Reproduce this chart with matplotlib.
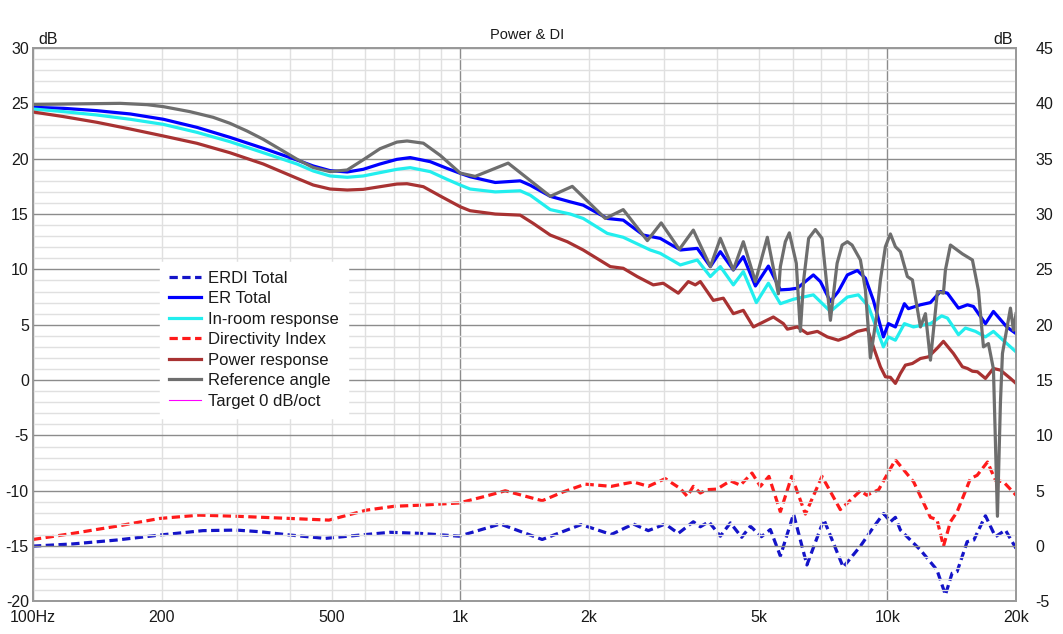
import matplotlib
matplotlib.use("Agg")
import matplotlib.pyplot as plt
from matplotlib.ticker import FixedLocator, NullFormatter

# ---------- data ----------
# Reference angle (left axis, dB)
ref_f = [100, 126, 160, 185, 202, 233, 264, 289, 317, 346, 379, 415, 453, 496,
         544, 593, 649, 711, 751, 820, 898, 1000, 1084, 1295, 1625, 1830,
         2186, 2408, 2742, 2955, 3258, 3513, 3851, 4064, 4359, 4600, 4909,
         5236, 5556, 5616, 5769, 5895, 6120, 6255, 6368, 6540, 6782, 7031,
         7355, 7625, 7834, 8059, 8265, 8646, 8882, 9125, 9450, 9630, 9892,
         10162, 10440, 10725, 11137, 11441, 11949, 12274, 12610, 13093, 13524,
         13671, 14045, 14981, 15812, 16334, 16779, 17238, 17708, 18095, 18390,
         18590, 19409, 19724, 20000]
ref_db = [24.9, 24.95, 25.0, 24.88, 24.7, 24.25, 23.74, 23.2, 22.5, 21.75,
          20.85, 19.95, 19.2, 18.83, 18.98, 19.9, 20.9, 21.5, 21.6, 21.4, 20.3,
          18.7, 18.4, 19.6, 16.6, 17.5, 14.6, 15.4, 12.6, 14.2, 11.8, 13.55,
          10.25, 12.8, 9.95, 12.5, 8.9, 12.9, 7.8, 10.25, 12.5, 13.3, 10.55,
          4.4, 9.05, 12.8, 13.6, 12.8, 5.4, 10.55, 12.2, 12.5, 12.2, 10.85,
          8.15, 2.0, 6.0, 9.05, 12.05, 13.2, 12.05, 11.6, 9.35, 9.05, 4.8, 6.0,
          1.8, 8.0, 7.85, 9.95, 12.2, 11.4, 10.85, 8.1, 3.0, 3.3, 1.0, -12.3,
          -2.0, 2.4, 6.5, 4.5, 6.0]

# ER Total (left axis)
er_f = [100, 118, 141, 169, 202, 242, 289, 346, 415, 453, 496, 544, 593, 649,
        711, 764, 851, 931, 1000, 1055, 1208, 1382, 1459, 1625, 1810, 1941,
        2210, 2408, 2683, 2940, 3275, 3589, 3851, 4064, 4359, 4600, 4909,
        5265, 5616, 5900, 6154, 6709, 6968, 7355, 7675, 8059, 8506, 8882,
        9273, 9786, 10053, 10440, 10959, 11197, 11949, 12610, 13307, 13820,
        14665, 15393, 15899, 16961, 17708, 19030, 20000]
er_db = [24.64, 24.55, 24.34, 24.04, 23.56, 22.83, 21.93, 20.94, 19.88, 19.34,
         18.92, 18.8, 19.04, 19.52, 19.94, 20.1, 19.73, 19.13, 18.68, 18.37,
         17.85, 18.0, 17.6, 16.6, 16.1, 15.8, 14.6, 14.45, 13.1, 12.8, 11.75,
         11.9, 10.25, 11.6, 9.95, 11.15, 8.5, 10.3, 8.15, 8.2, 8.3, 9.5, 8.9,
         7.1, 8.0, 9.5, 9.9, 9.2, 7.2, 3.9, 5.1, 4.8, 6.9, 6.45, 6.8, 7.0, 8.0,
         7.85, 6.5, 6.8, 6.65, 5.1, 6.2, 4.8, 4.2]

# In-room response (left axis)
ir_f = [100, 118, 141, 169, 202, 242, 289, 346, 415, 453, 496, 544, 593, 649,
        711, 764, 851, 931, 1000, 1055, 1208, 1382, 1459, 1625, 1810, 1941,
        2210, 2408, 2786, 2940, 3275, 3589, 3851, 4064, 4359, 4600, 4935,
        5265, 5616, 6023, 6709, 7355, 8059, 8550, 9030, 9786, 10053, 10440,
        10959, 11504, 12610, 13400, 13820, 14665, 15227, 16072, 16961, 17708,
        19030, 20000]
ir_db = [24.49, 24.25, 23.95, 23.56, 23.1, 22.38, 21.54, 20.54, 19.52, 18.89,
         18.44, 18.32, 18.44, 18.74, 19.04, 19.19, 18.83, 18.14, 17.62, 17.26,
         17.0, 17.1, 16.7, 15.4, 15.0, 14.6, 13.25, 12.9, 11.75, 11.45, 10.4,
         10.85, 9.35, 10.25, 8.6, 9.8, 7.0, 8.75, 6.9, 7.3, 7.7, 6.2, 7.5, 7.7,
         6.65, 3.0, 3.9, 3.6, 5.1, 4.8, 5.1, 5.8, 5.6, 4.1, 4.7, 4.4, 3.9, 4.4,
         3.3, 2.55]

# Power response (left axis)
pw_f = [100, 118, 141, 169, 202, 242, 289, 346, 415, 453, 496, 544, 593, 649,
        711, 751, 820, 898, 1000, 1055, 1208, 1382, 1483, 1625, 1781, 1941,
        2246, 2408, 2597, 2831, 2987, 3240, 3420, 3551, 3648, 3913, 4130,
        4359, 4600, 4856, 5408, 5708, 5832, 6154, 6496, 6856, 7235, 7675,
        8059, 8506, 8979, 9273, 9630, 9892, 10162, 10440, 10725, 11018,
        11441, 11949, 12474, 13093, 13524, 14275, 14981, 15393, 15812, 16247,
        16961, 17708, 18390, 19409, 20000]
pw_db = [24.22, 23.8, 23.29, 22.68, 22.05, 21.39, 20.54, 19.52, 18.23, 17.62,
         17.26, 17.17, 17.23, 17.47, 17.71, 17.74, 17.47, 16.63, 15.66, 15.3,
         15.0, 14.9, 14.15, 13.1, 12.5, 11.75, 10.25, 10.1, 9.35, 8.6, 8.75,
         7.85, 8.9, 8.6, 8.9, 7.2, 7.4, 6.0, 6.3, 4.8, 5.7, 5.1, 4.6, 4.8, 4.2,
         4.4, 3.9, 3.6, 3.9, 4.4, 4.6, 3.0, 1.2, 0.3, 0.25, -0.3, 0.6, 1.35,
         1.5, 1.95, 2.1, 2.9, 3.5, 2.4, 1.2, 1.05, 0.8, 0.75, 0.15, 1.05, 0.9,
         0.15, -0.3]

# Directivity Index (right axis)
di_f = [100, 124, 157, 198, 245, 299, 400, 493, 603, 701, 806, 995, 1144,
        1275, 1556, 1743, 1962, 2258, 2542, 2756, 3020, 3275, 3400, 3513,
        3648, 3780, 3990, 4290, 4527, 4820, 5042, 5280, 5616, 5970, 6427,
        7030, 7758, 8646, 8950, 9540, 10440, 11520, 12610, 13060, 13530,
        14045, 14560, 15643, 16220, 17150, 17900, 18700, 20000]
di_db = [0.6, 1.15, 1.8, 2.5, 2.8, 2.7, 2.5, 2.35, 3.25, 3.6, 3.7, 3.9, 4.5,
         5.0, 4.1, 4.9, 5.6, 5.4, 5.8, 5.4, 6.1, 5.2, 4.5, 5.4, 4.8, 5.1,
         5.15, 5.9, 5.5, 6.6, 5.4, 6.3, 3.1, 6.3, 2.9, 6.3, 3.3, 5.0, 4.6,
         5.1, 7.8, 5.8, 2.6, 2.4, 0.0, 2.2, 3.1, 6.1, 6.4, 7.6, 5.95, 5.8, 4.6]

# ERDI Total (right axis)
erdi_f = [100, 124, 157, 198, 250, 299, 340, 400, 483, 583, 686, 806, 995,
          1241, 1556, 1920, 2258, 2542, 2756, 3020, 3240, 3513, 3648, 3820,
          4064, 4290, 4560, 4778, 5070, 5321, 5616, 6030, 6480, 7100, 7880,
          8646, 9290, 9800, 10162, 10440, 10725, 11949, 13060, 13671, 14170,
          14560, 15370, 15930, 16961, 17900, 18890, 20000]
erdi_db = [0.0, 0.2, 0.55, 1.0, 1.4, 1.45, 1.3, 1.0, 0.7, 1.0, 1.25, 1.15, 0.9,
           2.0, 0.6, 1.95, 1.05, 2.0, 1.4, 2.0, 1.15, 2.2, 1.75, 2.2, 0.9, 2.1,
           0.8, 1.8, 0.85, 1.5, -0.9, 2.9, -1.7, 2.4, -1.9, 0.0, 1.75, 2.95,
           2.2, 2.6, 1.45, -0.35, -2.15, -4.4, -2.45, -2.3, 0.4, 0.55, 2.75,
           0.85, 1.45, -0.2]

x_ticks = [100, 200, 500, 1000, 2000, 5000, 10000, 20000]
x_labels = ["100Hz", "200", "500", "1k", "2k", "5k", "10k", "20k"]

# ---------- styling ----------
TXT = "#1A1A1A"
MAJOR = "#8C8C8C"
MINOR = "#E0E0E0"
plt.rcParams.update({"font.family": ["Liberation Sans", "DejaVu Sans"],
                     "font.size": 11.5, "text.color": TXT,
                     "axes.unicode_minus": False,
                     "lines.solid_joinstyle": "round",
                     "lines.dash_joinstyle": "round"})

fig = plt.figure(figsize=(10.63, 6.34), dpi=100, facecolor="white")
ax = fig.add_axes([0.031, 0.0513, 0.9248, 0.873])
ax2 = ax.twinx()

ax.set_xscale("log")
ax.set_xlim(100, 20000)
ax.set_ylim(-20, 30)
ax2.set_ylim(-5, 45)

# grid
ax.xaxis.set_major_locator(FixedLocator([100, 1000, 10000]))
ax.xaxis.set_minor_locator(FixedLocator(
    [m * d for d in (100, 1000) for m in range(2, 10)] + [20000]))
ax.yaxis.set_major_locator(FixedLocator(range(-20, 31, 5)))
ax.yaxis.set_minor_locator(FixedLocator(range(-20, 31, 1)))
ax.grid(which="minor", color=MINOR, lw=1.0)
ax.grid(which="major", color=MAJOR, lw=1.0)
ax.set_axisbelow(True)
ax.xaxis.set_major_formatter(NullFormatter())
ax.xaxis.set_minor_formatter(NullFormatter())
ax.tick_params(which="both", length=0, labelsize=11.5, colors=TXT)
ax.tick_params(axis="y", pad=3)
ax2.yaxis.set_major_locator(FixedLocator(range(-5, 46, 5)))
ax2.tick_params(length=0, labelsize=11.5, colors=TXT, pad=14)

for a in (ax, ax2):
    for s in a.spines.values():
        s.set_color("#9A9A9A")
        s.set_linewidth(1.3)

for f, lab in zip(x_ticks, x_labels):
    ax.text(f, -0.015, lab, transform=ax.get_xaxis_transform(),
            ha="center", va="top", fontsize=11.5, color=TXT)

# curves
dash = (0, (2.6, 1.4))
ax2.plot(erdi_f, erdi_db, color="#1414C8", lw=2.3, linestyle=dash, label="ERDI Total")
ax.plot(er_f, er_db, color="#0000FF", lw=2.3, label="ER Total")
ax.plot(ir_f, ir_db, color="#22EEEE", lw=2.3, label="In-room response")
ax2.plot(di_f, di_db, color="#FF1A1A", lw=2.3, linestyle=dash, label="Directivity Index")
ax.plot(pw_f, pw_db, color="#A83232", lw=2.3, label="Power response")
ax.plot(ref_f, ref_db, color="#6E6E6E", lw=2.3, label="Reference angle")
ax.plot([], [], color="#FF00FF", lw=0.8, label="Target 0 dB/oct")
ax.set_zorder(ax2.get_zorder() + 1)
ax.patch.set_visible(False)

h1, l1 = ax.get_legend_handles_labels()
h2, l2 = ax2.get_legend_handles_labels()
order = [h2[0], h1[0], h1[1], h2[1], h1[2], h1[3], h1[4]]
labels = [l2[0], l1[0], l1[1], l2[1], l1[2], l1[3], l1[4]]
leg = ax.legend(order, labels, loc="upper left", bbox_to_anchor=(0.129, 0.614),
                frameon=True, fancybox=False, framealpha=1, edgecolor="white",
                fontsize=12, handlelength=1.9, handletextpad=0.45,
                labelspacing=0.33, borderpad=0.55, borderaxespad=0)
leg.set_zorder(10)

# labels
fig.text(0.496, 0.945, "Power & DI", ha="center", va="center", fontsize=10.5, color=TXT)
fig.text(0.036, 0.937, "dB", ha="left", va="center", fontsize=11.5, color=TXT)
fig.text(0.953, 0.937, "dB", ha="right", va="center", fontsize=11.5, color=TXT)

fig.savefig("out.png", dpi=100, facecolor="white")
